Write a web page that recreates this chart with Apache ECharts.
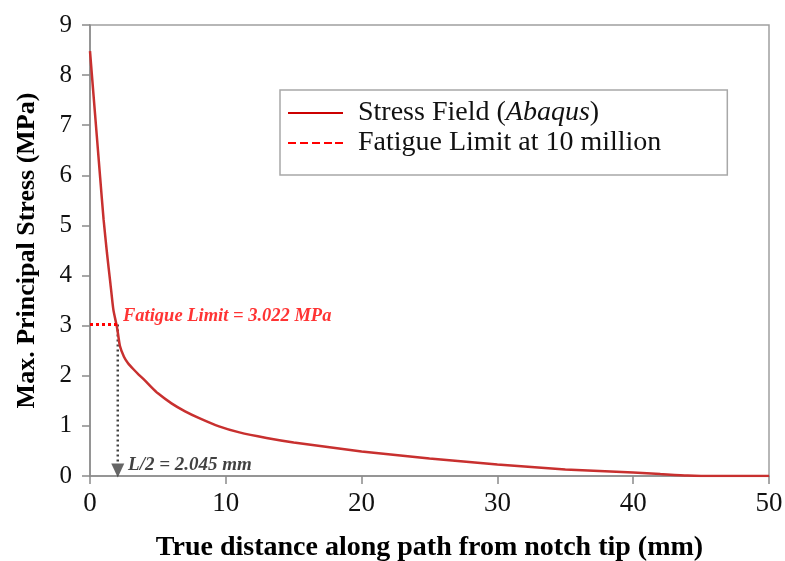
<!DOCTYPE html>
<html>
<head>
<meta charset="utf-8">
<script src="https://cdn.jsdelivr.net/npm/echarts@6/dist/echarts.min.js"></script>
<style>html,body{margin:0;padding:0;background:#fff;}#c{width:785px;height:561px;}</style>
</head>
<body>
<div id="c"></div>
<script>
const distances = [0, 0.25, 0.5, 0.75, 1.0, 1.25, 1.5, 1.72, 2.0, 2.2, 2.5, 2.8, 3.2, 3.6, 4.0, 4.5, 5.0, 6.0, 7.0, 8.0, 9.5, 11, 13, 15, 17.5, 20, 22.5, 25, 27.5, 30, 32.5, 35, 37.5, 40, 42, 44, 46, 48, 50];
const stress = [8.48, 7.63, 6.79, 5.95, 5.12, 4.45, 3.85, 3.32, 2.95, 2.6, 2.38, 2.25, 2.13, 2.02, 1.92, 1.78, 1.65, 1.45, 1.29, 1.16, 0.99, 0.87, 0.76, 0.67, 0.58, 0.49, 0.42, 0.35, 0.29, 0.23, 0.18, 0.13, 0.10, 0.07, 0.04, 0.01, 0, 0, 0];
const fatigueLimit = 3.022;
const halfLength = 2.045;
const xTicks = [0, 10, 20, 30, 40, 50];
const yTicks = [0, 1, 2, 3, 4, 5, 6, 7, 8, 9];
const seriesNames = ['Stress Field (Abaqus)', 'Fatigue Limit at 10 million'];
const fatigueText = 'Fatigue Limit = 3.022 MPa';
const halfText = 'L/2 = 2.045 mm';

const FONT = 'Liberation Serif';
const RED = '#c8302f';
const chart = echarts.init(document.getElementById('c'));
chart.setOption({
  animation: false,
  backgroundColor: '#fff',
  grid: { left: 90, right: 16, top: 25, bottom: 85, show: true, borderColor: '#a0a0a0', borderWidth: 1.5,
    containLabel: false, outerBoundsMode: 'none' },
  legend: {
    orient: 'vertical', left: 280, top: 90,
    padding: [9, 66, 18, 8], itemGap: 2,
    itemWidth: 55, itemHeight: 24,
    borderColor: '#a8a8a8', borderWidth: 1.5, backgroundColor: '#fff',
    data: [
      { name: seriesNames[0], icon: 'path://M0,11 L55,11 L55,13 L0,13 Z', itemStyle: { color: '#cc0000' } },
      { name: seriesNames[1], icon: 'path://M0,11 L8,11 L8,13 L0,13 Z M12,11 L20,11 L20,13 L12,13 Z M24,11 L32,11 L32,13 L24,13 Z M36,11 L44,11 L44,13 L36,13 Z M47,11 L55,11 L55,13 L47,13 Z', itemStyle: { color: '#ff0000' } }
    ],
    textStyle: { fontFamily: FONT, fontSize: 28, lineHeight: 28, color: '#111', padding: [0, 0, 0, 10],
      rich: { i: { fontFamily: FONT, fontSize: 28, lineHeight: 28, fontStyle: 'italic', color: '#111' } } },
    formatter: function (n) { return n === seriesNames[0] ? 'Stress Field ({i|Abaqus})' : n; }
  },
  xAxis: {
    type: 'value', min: 0, max: 50, interval: 10,
    name: 'True distance along path from notch tip (mm)', nameLocation: 'middle', nameGap: 58,
    nameTextStyle: { fontFamily: FONT, fontSize: 28, fontWeight: 'bold', color: '#000' },
    axisLine: { lineStyle: { color: '#8a8a8a', width: 1.5 } },
    axisTick: { show: true, inside: false, length: 8, lineStyle: { color: '#8a8a8a', width: 1.5 } },
    axisLabel: { margin: 14, fontFamily: FONT, fontSize: 27, color: '#111', formatter: v => xTicks.includes(v) ? String(v) : '' },
    splitLine: { show: false }
  },
  yAxis: {
    type: 'value', min: 0, max: 9, interval: 1,
    name: 'Max. Principal Stress (MPa)', nameLocation: 'middle', nameGap: 50,
    nameTextStyle: { fontFamily: FONT, fontSize: 26, fontWeight: 'bold', color: '#000' },
    axisLine: { show: true, lineStyle: { color: '#8a8a8a', width: 1.5 } },
    axisTick: { show: true, inside: false, length: 8, lineStyle: { color: '#8a8a8a', width: 1.5 } },
    axisLabel: { margin: 18, fontFamily: FONT, fontSize: 25, color: '#111', formatter: v => yTicks.includes(v) ? String(v) : '' },
    splitLine: { show: false }
  },
  series: [
    { name: seriesNames[0], type: 'line', smooth: 0.2, showSymbol: false, symbol: 'none',
      lineStyle: { color: RED, width: 2.5 }, itemStyle: { color: RED },
      data: distances.map((d, i) => [d, stress[i]]), z: 3 },
    { name: seriesNames[1], type: 'line', symbol: 'none',
      lineStyle: { color: '#ff0000', width: 3, type: [3, 3] }, itemStyle: { color: '#ff0000' },
      data: [[0, fatigueLimit], [halfLength, fatigueLimit]], z: 4 },
    { name: 'drop', type: 'line', symbol: 'none',
      lineStyle: { color: '#404040', width: 2.5, type: [2, 3] },
      data: [[halfLength, fatigueLimit], [halfLength, 0.25]], z: 2 },
    { name: 'arrow', type: 'scatter', symbol: 'triangle', symbolSize: [13, 14], symbolRotate: 180,
      itemStyle: { color: '#404040' }, data: [[halfLength, 0.11]], z: 5 },
    { name: 'labels', type: 'scatter', symbolSize: 0, z: 6,
      data: [
        { value: [2.43, 3.18], label: { show: true, position: 'right', distance: 0, formatter: fatigueText, color: '#ff0000',
          fontFamily: FONT, fontSize: 18.5, fontWeight: 'bold', fontStyle: 'italic' } },
        { value: [2.8, 0.22], label: { show: true, position: 'right', distance: 0, formatter: halfText, color: '#111',
          fontFamily: FONT, fontSize: 19, fontWeight: 'bold', fontStyle: 'italic' } }
      ] }
  ]
});
</script>
</body>
</html>
